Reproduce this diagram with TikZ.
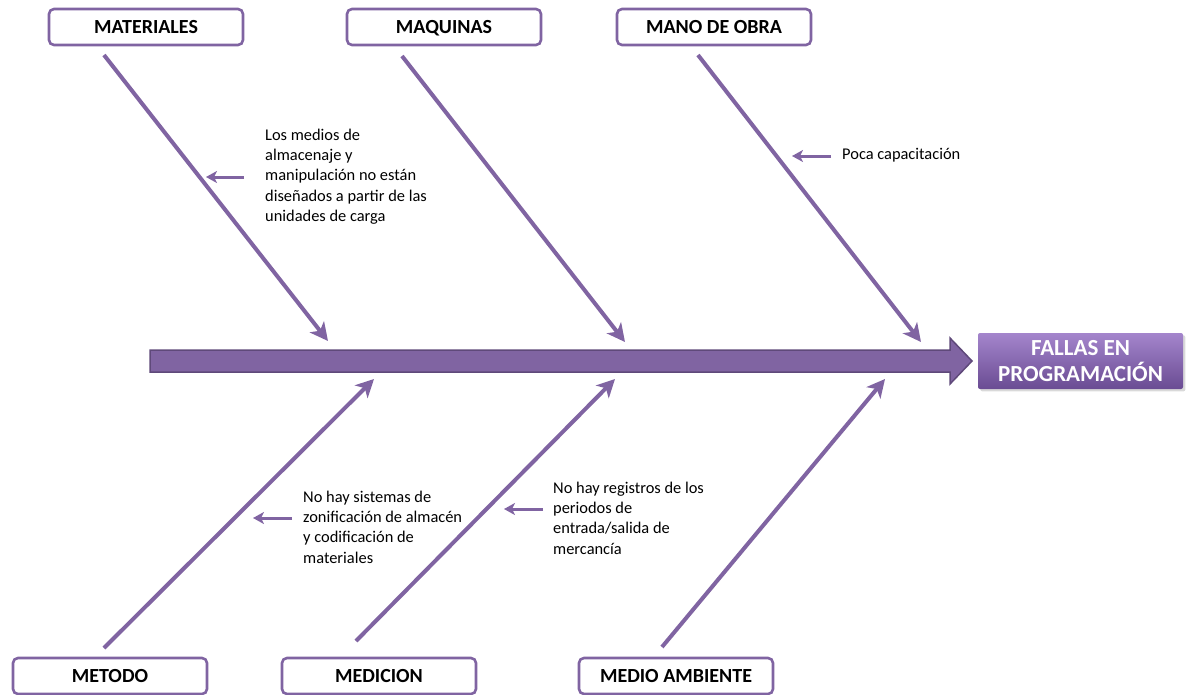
\documentclass[tikz,border=0pt]{standalone}
\usepackage{fontspec}
\setmainfont{Carlito}
\usetikzlibrary{arrows.meta,shadows}
\definecolor{fishpurple}{HTML}{8064A2}
\definecolor{fishdark}{HTML}{5F497A}
\definecolor{headtop}{HTML}{A485CC}
\definecolor{headbot}{HTML}{6A4C93}
\tikzset{
  catbox/.style={draw=fishpurple, line width=2.6pt, rounded corners=5pt, fill=white,
    minimum width=194pt, minimum height=36pt, inner sep=0pt,
    text height=13pt, text depth=1pt,
    font=\fontsize{20}{22}\selectfont\bfseries},
  bone/.style={draw=fishpurple, line width=4pt,
    -{Stealth[length=18pt,width=18pt,inset=5pt]}},
  cause/.style={draw=fishpurple, line width=3pt,
    -{Stealth[length=11pt,width=12pt,inset=3pt]}},
  note/.style={anchor=north west, align=left, inner sep=0pt,
    font=\fontsize{16.4}{20.2}\selectfont},
}
\begin{document}
\begin{tikzpicture}[x=1pt,y=-1pt]
\useasboundingbox (0,0) rectangle (1186,694);

% category boxes
\node[catbox] (mat) at (146,27) {MATERIALES};
\node[catbox] (maq) at (444,27) {MAQUINAS};
\node[catbox] (mano) at (714,27) {MANO DE OBRA};
\node[catbox] (met) at (110,676) {METODO};
\node[catbox] (medi) at (379,676) {MEDICION};
\node[catbox] (amb) at (676,676) {MEDIO AMBIENTE};

% effect box
\node[anchor=center, minimum width=205pt, minimum height=56pt, inner sep=0pt,
  top color=headtop, bottom color=headbot, drop shadow={opacity=0.3},
  rounded corners=2pt, align=center, text=white,
  font=\fontsize{23}{26}\selectfont\bfseries] (eff) at (1080.5,361)
  {FALLAS EN\\PROGRAMACIÓN};

% spine
\coordinate (tail) at (150,361);
\coordinate (tip) at (972,361);
\draw[fill=fishpurple, draw=fishdark, line width=1.5pt, line join=miter]
  (tail) ++(0,-11) -- (950,350) -- (950,338) -- (tip) -- (950,384) -- (950,372)
  -- (150,372) -- cycle;

% bone end points
\coordinate (matA) at (104,55);   \coordinate (matB) at (328,341);
\coordinate (maqA) at (402,56);   \coordinate (maqB) at (625,342);
\coordinate (manoA) at (698,55);  \coordinate (manoB) at (921,342);
\coordinate (metA) at (104,648);  \coordinate (metB) at (374,379);
\coordinate (mediA) at (356,641); \coordinate (mediB) at (615,379);
\coordinate (ambA) at (662,647);  \coordinate (ambB) at (885,379);

\draw[bone] (matA) -- (matB);
\draw[bone] (maqA) -- (maqB);
\draw[bone] (manoA) -- (manoB);
\draw[bone] (metA) -- (metB);
\draw[bone] (mediA) -- (mediB);
\draw[bone] (ambA) -- (ambB);

% causes
\node[note] (n1) at (265,129) {Los medios de\\almacenaje y\\manipulación no están\\diseñados a partir de las\\unidades de carga};
\node[note] (n2) at (842,148) {Poca capacitación};
\node[note] (n3) at (303,491) {No hay sistemas de\\zonificación de almacén\\y codificación de\\materiales};
\node[note] (n4) at (553,482) {No hay registros de los\\periodos de\\entrada/salida de\\mercancía};

\coordinate (c1a) at (244,177); \coordinate (c1b) at (206,177);
\coordinate (c2a) at (831,156); \coordinate (c2b) at (792,156);
\coordinate (c3a) at (292,518); \coordinate (c3b) at (253,518);
\coordinate (c4a) at (543,509); \coordinate (c4b) at (504,509);
\draw[cause] (c1a) -- (c1b);
\draw[cause] (c2a) -- (c2b);
\draw[cause] (c3a) -- (c3b);
\draw[cause] (c4a) -- (c4b);
\end{tikzpicture}
\end{document}
